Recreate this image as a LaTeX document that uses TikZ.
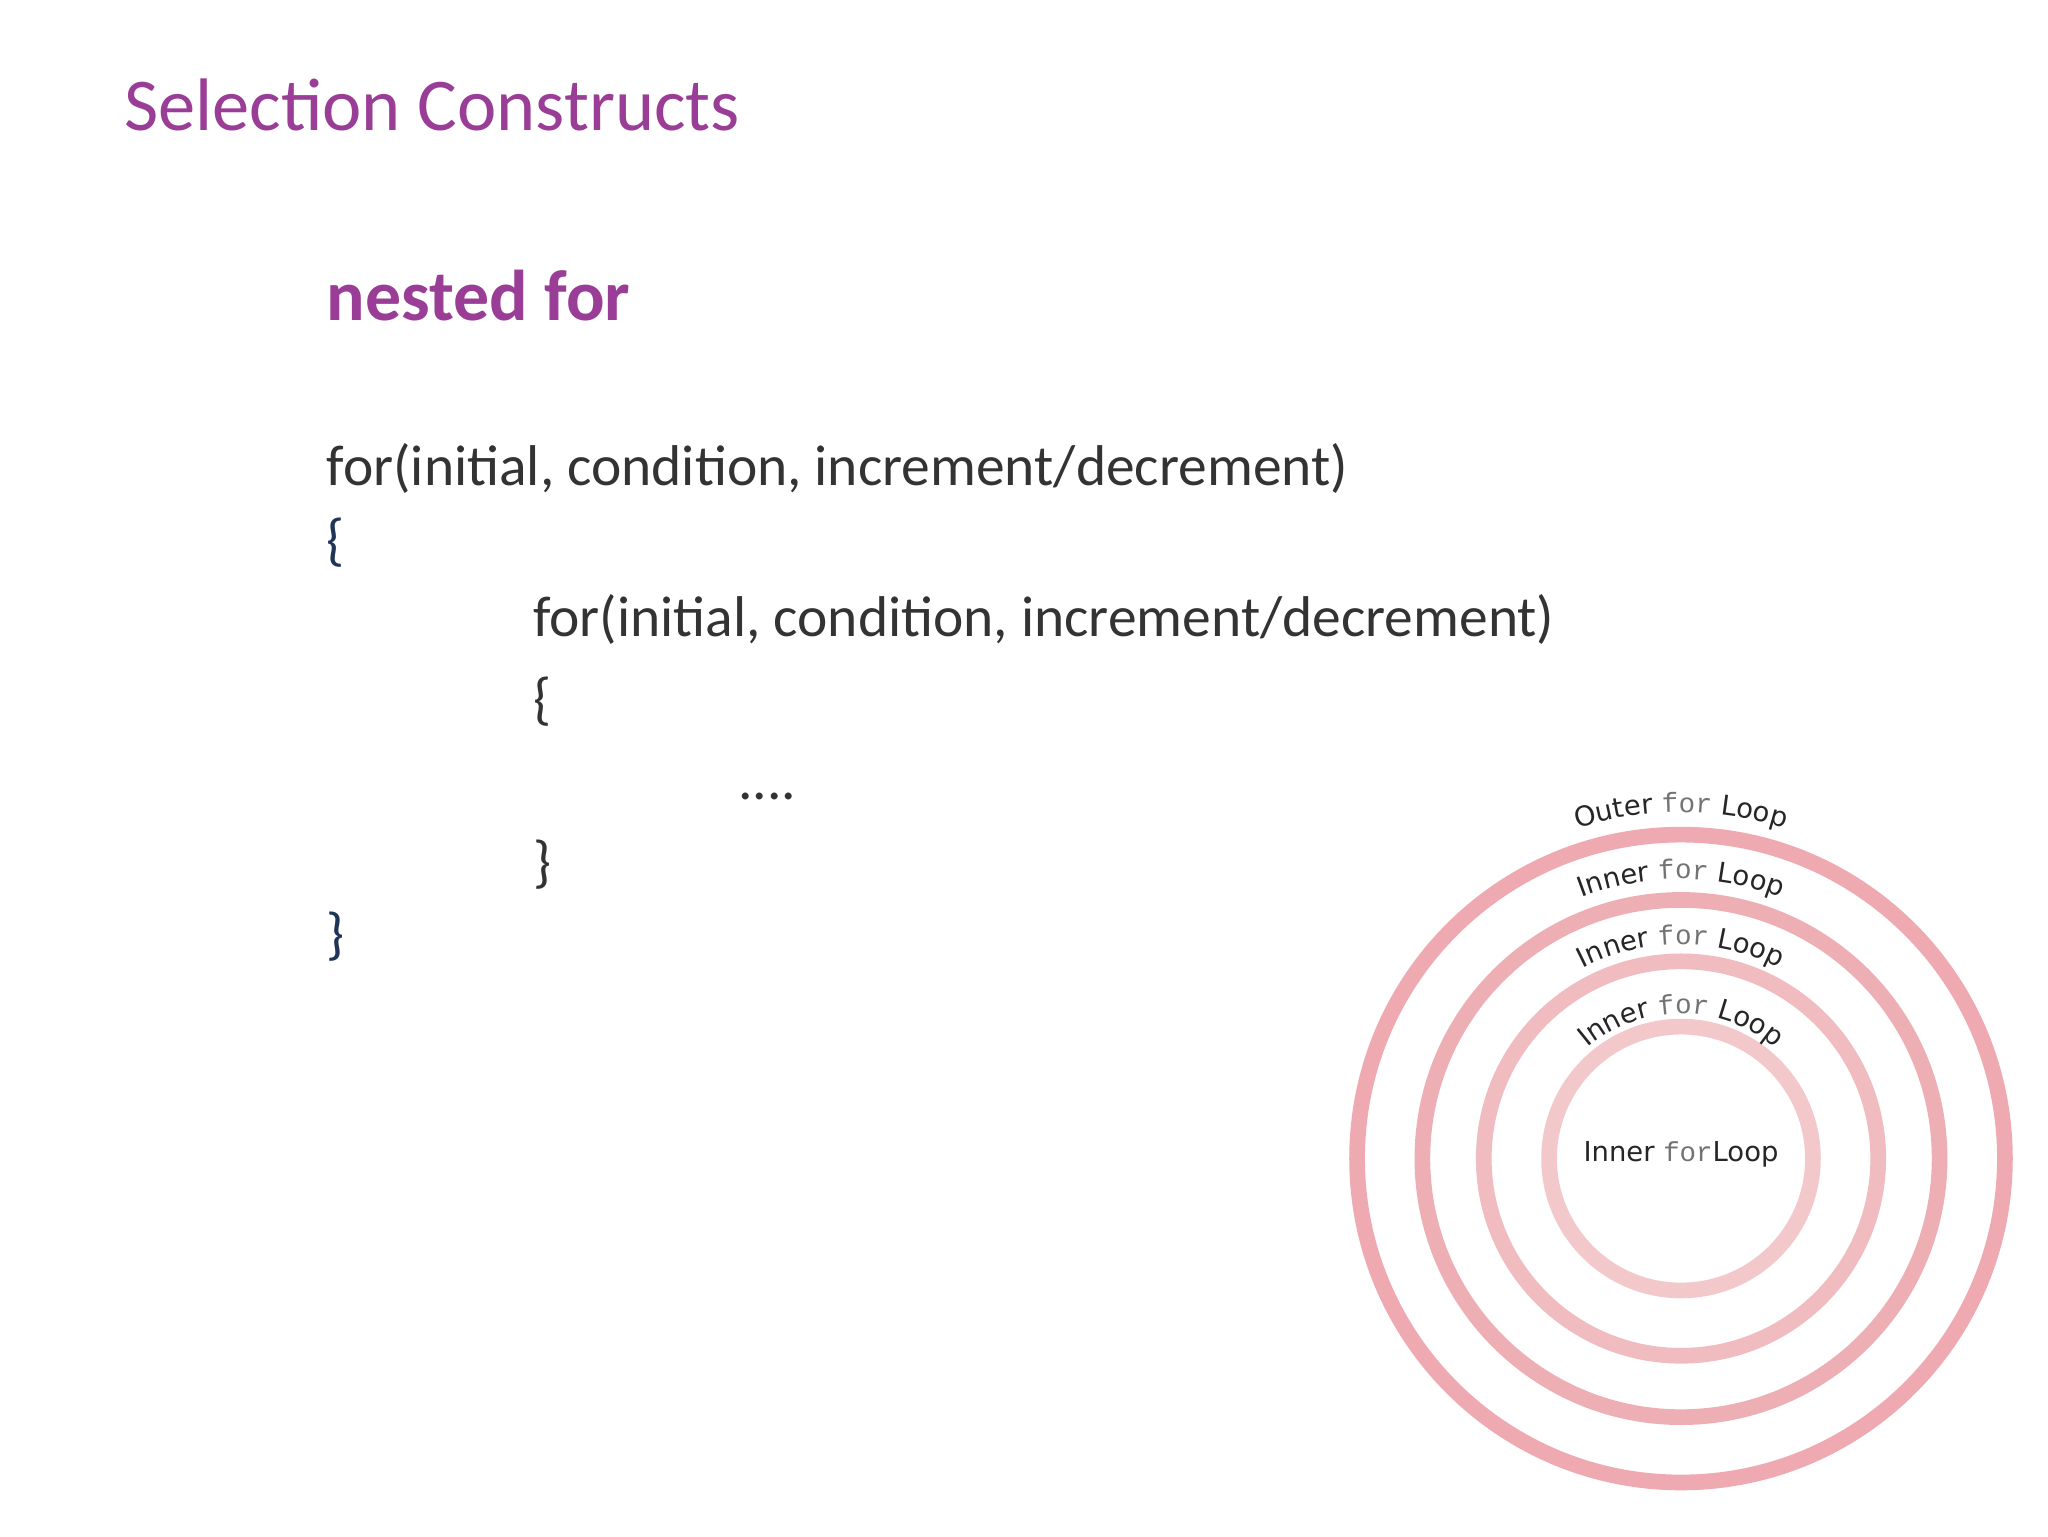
\documentclass[tikz,border=0pt]{standalone}
\usepackage{fontspec}
\setmainfont{Carlito}
\newfontfamily\verd{DejaVu Sans}
\newfontfamily\cour{Liberation Mono}
\usetikzlibrary{decorations.text}
\definecolor{ttl}{HTML}{9A3D96}
\definecolor{code}{HTML}{333333}
\definecolor{navy}{HTML}{1F3456}
\definecolor{r1}{HTML}{EEAAB0}
\definecolor{r2}{HTML}{EEAFB4}
\definecolor{r3}{HTML}{F0BCC0}
\definecolor{r4}{HTML}{F3C8CB}
\newcommand{\lblfs}{\fontsize{21}{22}\selectfont}
\begin{document}
\begin{tikzpicture}[x=1pt,y=1pt,
  codetxt/.style={anchor=base west,inner sep=0,text=code,font=\fontsize{44}{46}\selectfont},
  ring/.style={draw=#1,line width=12pt},
  arclbl/.style={decorate,decoration={text along path,text align=center,
     text={|\verd\lblfs\color{black!85}|#1 |\cour\lblfs\color{black!55}|for|\verd\lblfs\color{black!85}| Loop}}}]
\useasboundingbox[fill=white] (0,0) rectangle (1568,-1176);
\node[anchor=base west,inner sep=0,text=ttl,font=\fontsize{57}{60}\selectfont] (title) at (95,-100) {Selection Constructs};
\node[anchor=base west,inner sep=0,text=ttl,font=\bfseries\fontsize{55}{58}\selectfont] (sub) at (250,-245) {nested for};
\node[codetxt] (l1) at (250,-372) {for(initial, condition, increment/decrement)};
\node[codetxt,text=navy] (l2) at (250,-428) {\{};
\node[codetxt] (l3) at (408,-487) {for(initial, condition, increment/decrement)};
\node[codetxt] (l4) at (408,-550) {\{};
\node[codetxt] (l5) at (565,-612) {....};
\node[codetxt] (l6) at (408,-675) {\}};
\node[codetxt,text=navy] (l7) at (250,-730) {\}};
\coordinate (c) at (1287,-887);
\draw[ring=r1] (c) circle[radius=248];
\draw[ring=r2] (c) circle[radius=198];
\draw[ring=r3] (c) circle[radius=151];
\draw[ring=r4] (c) circle[radius=101];
\path[arclbl=Outer] (c) ++(112:265) arc[start angle=112,end angle=68,radius=265];
\path[arclbl=Inner] (c) ++(115:214) arc[start angle=115,end angle=65,radius=214];
\path[arclbl=Inner] (c) ++(120:164) arc[start angle=120,end angle=60,radius=164];
\path[arclbl=Inner] (c) ++(130:111) arc[start angle=130,end angle=50,radius=111];
\node[inner sep=0,anchor=base,font=\lblfs] (in) at (1287,-889) {\verd\color{black!85}Inner \cour\color{black!55}for\verd\color{black!85} Loop};
\end{tikzpicture}
\end{document}
